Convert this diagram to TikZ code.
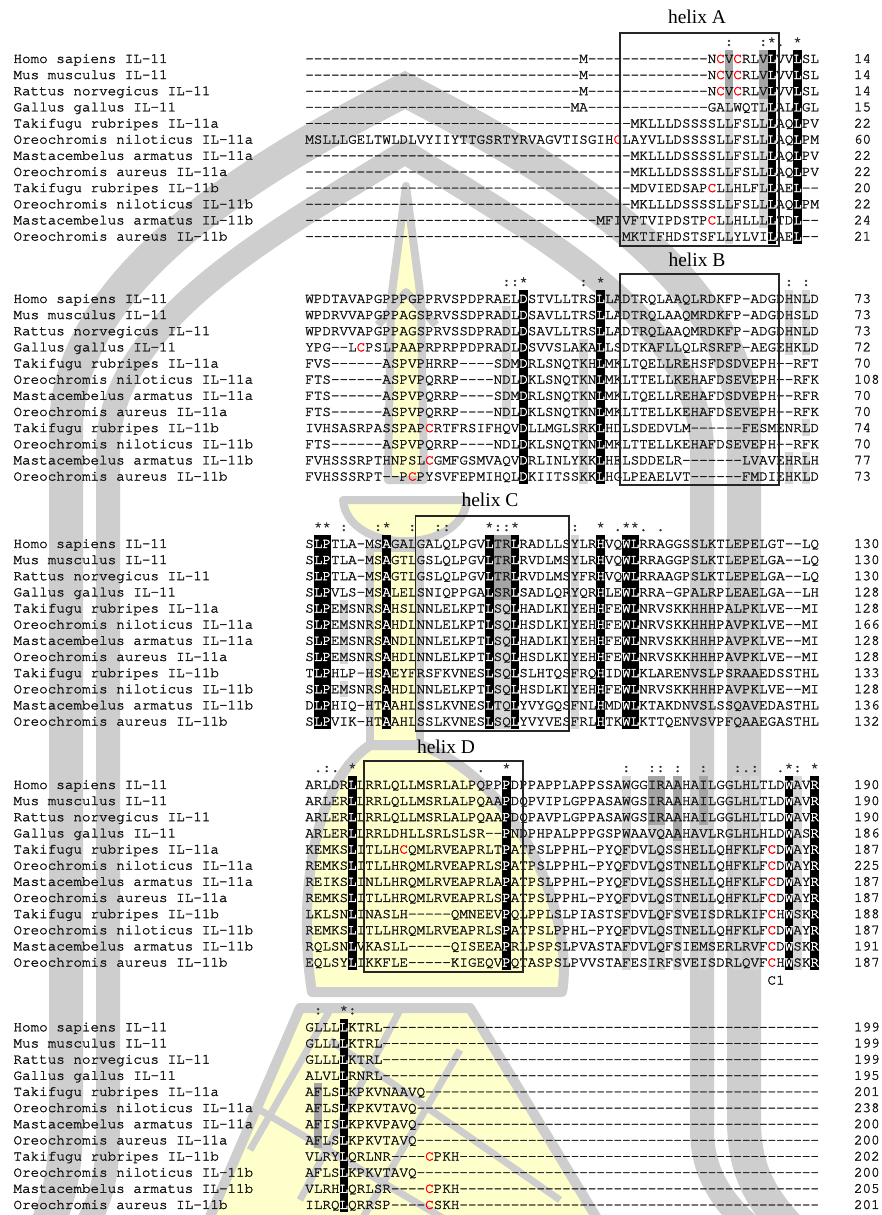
\documentclass[tikz,border=0pt]{standalone}
\usepackage{fontspec}
\setmonofont{TeX Gyre Cursor}[FakeBold=2]
\newfontfamily\helixfont{Liberation Serif}
\ExplSyntaxOn
\cs_new:Npn \dsh #1 { \prg_replicate:nn {#1} {-} }
\ExplSyntaxOff
\newcommand\rc{\textcolor{red}{C}}
\newcommand\w[1]{\textcolor{white}{#1}}
\definecolor{wmg}{RGB}{206,206,206}
\definecolor{wmy}{RGB}{255,255,204}
\definecolor{sdk}{RGB}{165,165,165}
\definecolor{slt}{RGB}{214,214,214}
\def\xo{305.3}
\def\cw{8.56}
\def\rp{16.15}
\def\yA{58.3}
\def\yB{298.3}
\def\yC{543.3}
\def\yD{784.3}
\def\yE{1026.7}
\tikzset{
  seq/.style={anchor=base west, inner sep=0pt, outer sep=0pt, font=\ttfamily\fontsize{14.27}{16}\selectfont, text=black!90},
  cons/.style={anchor=base, inner sep=0pt, outer sep=0pt, font=\ttfamily\fontsize{14.27}{16}\selectfont, text=black!80},
  helixlab/.style={inner sep=0pt, font=\helixfont\fontsize{19.5}{22}\selectfont},
  hbox/.style={draw=black!85, line width=1.3pt},
  wmline/.style={draw=wmg, line join=round},
  wmfill/.style={fill=wmy, draw=wmg, line join=round}
}
\newcommand\drawnames[2]{%
  \foreach \r/\nm in {1/Homo sapiens IL-11,2/Mus musculus IL-11,3/Rattus norvegicus IL-11,4/Gallus gallus IL-11,5/Takifugu rubripes IL-11a,6/Oreochromis niloticus IL-11a,7/Mastacembelus armatus IL-11a,8/Oreochromis aureus IL-11a,9/Takifugu rubripes IL-11b,10/Oreochromis niloticus IL-11b,11/Mastacembelus armatus IL-11b,12/Oreochromis aureus IL-11b}{%
    \node[seq] (#2n\r) at (13.5,{#1+(\r-1)*\rp+4.6}) {\nm};}}
\newcommand\blackcol[2]{%
  \fill[black] ({\xo+#2*\cw},{#1-8.1}) rectangle ({\xo+(#2+1)*\cw},{#1+11*\rp+8.1});}
\newcommand\grun[5]{%
  \fill[#5] ({\xo+#2*\cw},{#1+(#3-1)*\rp-8.08}) rectangle ({\xo+(#2+1)*\cw},{#1+(#4-1)*\rp+8.08});}
\newcommand\conss[3]{%
  \foreach \c/\s in {#2}{\node[cons] (#3c\c) at ({\xo+(\c+0.5)*\cw},{#1+4.6-17}) {\s};}}
\begin{document}
\begin{tikzpicture}[x=1pt,y=-1pt]
\useasboundingbox (0,0) rectangle (881,1215);
\fill[white] (0,0) rectangle (881,1215);
% ---------------- watermark ----------------
\begin{scope}
\clip (0,0) rectangle (881,1215);
\draw[wmline, line width=34pt, line join=miter] (40,1240) .. controls (60,1200) and (66,1170) .. (66,1120) -- (66,430) .. controls (66,280) and (250,170) .. (405,90) .. controls (560,170) and (744,280) .. (744,430) -- (744,1120) .. controls (744,1170) and (760,1200) .. (800,1240);
\draw[wmline, line width=24pt, line join=miter] (70,1250) .. controls (100,1210) and (108,1180) .. (108,1130) -- (108,450) .. controls (108,320) and (280,230) .. (405,152) .. controls (530,230) and (702,320) .. (702,450) -- (702,1130) .. controls (702,1180) and (730,1215) .. (780,1250);
\filldraw[wmfill, line width=8pt] (406,186) -- (421,300) -- (424,480) -- (388,480) -- (391,300) -- cycle;
\draw[wmline, line width=8pt] (378,325) -- (406,292) -- (436,325);
\filldraw[wmfill, line width=8pt] (343,500) .. controls (348,555) and (462,555) .. (467,500) -- cycle;
\filldraw[wmfill, line width=8pt] (370,548) rectangle (420,745);
\filldraw[wmfill, line width=10pt] (370,745) .. controls (305,790) and (300,920) .. (312,992) -- (562,992) .. controls (575,920) and (520,780) .. (420,745) -- cycle;
\filldraw[wmfill, line width=10pt] (300,1008) -- (470,1008) -- (610,1240) -- (200,1240) -- cycle;
\draw[wmline, line width=7pt] (250,1150) -- (330,1010) (300,1200) -- (400,1010) (350,1240) -- (460,1050) (330,1040) -- (560,1200) (260,1110) -- (480,1240);
\end{scope}
% ---------------- gray shading ----------------
\grun{\yA}{49}{1}{3}{sdk}\grun{\yA}{49}{4}{12}{slt}
\grun{\yA}{53}{1}{3}{sdk}\grun{\yA}{53}{4}{11}{slt}
\grun{\yB}{23}{2}{8}{slt}\grun{\yB}{32}{4}{12}{slt}
\grun{\yB}{56}{1}{4}{slt}\grun{\yB}{56}{11}{12}{slt}
\grun{\yB}{58}{1}{4}{slt}\grun{\yB}{58}{9}{9}{slt}\grun{\yB}{58}{11}{12}{slt}
\grun{\yC}{4}{5}{8}{slt}\grun{\yC}{4}{10}{10}{slt}
\grun{\yC}{22}{1}{4}{sdk}\grun{\yC}{23}{1}{4}{sdk}
\grun{\yC}{22}{5}{12}{slt}\grun{\yC}{23}{5}{12}{slt}
\grun{\yC}{31}{1}{12}{slt}
\grun{\yD}{37}{1}{12}{slt}
\grun{\yD}{40}{1}{3}{sdk}\grun{\yD}{41}{1}{3}{sdk}
\grun{\yD}{40}{4}{12}{slt}\grun{\yD}{41}{4}{12}{slt}
\grun{\yD}{43}{1}{4}{sdk}\grun{\yD}{43}{5}{12}{slt}
\grun{\yD}{46}{1}{3}{sdk}\grun{\yD}{46}{4}{12}{slt}
\grun{\yD}{50}{1}{12}{slt}\grun{\yD}{52}{1}{12}{slt}\grun{\yD}{57}{1}{12}{slt}
\grun{\yE}{1}{5}{8}{sdk}
% ---------------- black columns ----------------
\blackcol{\yA}{54}\blackcol{\yA}{57}
\blackcol{\yB}{25}\blackcol{\yB}{34}
\blackcol{\yC}{1}\blackcol{\yC}{2}\blackcol{\yC}{9}\blackcol{\yC}{21}\blackcol{\yC}{24}\blackcol{\yC}{34}\blackcol{\yC}{37}\blackcol{\yC}{38}
\blackcol{\yD}{5}\blackcol{\yD}{23}\blackcol{\yD}{56}\blackcol{\yD}{59}
\blackcol{\yE}{4}
% ---------------- names ----------------
\drawnames{\yA}{b1}\drawnames{\yB}{b2}\drawnames{\yC}{b3}\drawnames{\yD}{b4}\drawnames{\yE}{b5}
% ---------------- block 1 ----------------
\foreach \r/\s/\n in {
 1/{\dsh{32}M\dsh{14}N\rc{}V\rc{}RLV\w{L}VV\w{L}SL}/14,
 2/{\dsh{32}M\dsh{14}N\rc{}V\rc{}RLV\w{L}VV\w{L}SL}/14,
 3/{\dsh{32}M\dsh{14}N\rc{}V\rc{}RLV\w{L}VV\w{L}SL}/14,
 4/{\dsh{31}MA\dsh{14}GALWQTL\w{L}AL\w{L}GL}/15,
 5/{\dsh{38}MKLLLDSSSSLLFSLL\w{L}AQ\w{L}PV}/22,
 6/{MSLLLGELTWLDLVYIIYTTGSRTYRVAGVTISGIH\rc{}LAYVLLDSSSSLLFSLL\w{L}AQ\w{L}PM}/60,
 7/{\dsh{38}MKLLLDSSSSLLFSLL\w{L}AQ\w{L}PV}/22,
 8/{\dsh{38}MKLLLDSSSSLLFSLL\w{L}AQ\w{L}PV}/22,
 9/{\dsh{38}MDVIEDSAP\rc{}LLHLFL\w{L}AE\w{L}--}/20,
 10/{\dsh{38}MKLLLDSSSSLLFSLL\w{L}AQ\w{L}PM}/22,
 11/{\dsh{34}MFIVFTVIPDSTP\rc{}LLHLLL\w{L}TD\w{L}--}/24,
 12/{\dsh{37}MKTIFHDSTSFLLYLVI\w{L}AE\w{L}--}/21}{
 \node[seq] (b1s\r) at (\xo,{\yA+(\r-1)*\rp+4.6}) {\s};
 \node[seq] (b1m\r) at (854,{\yA+(\r-1)*\rp+4.6}) {\n};}
% ---------------- block 2 ----------------
\foreach \r/\s/\n in {
 1/{WPDTAVAPGPPPGPPRVSPDPRAEL\w{D}STVLLTRS\w{L}LADTRQLAAQLRDKFP-ADGDHNLD}/73,
 2/{WPDRVVAPGPPAGSPRVSSDPRADL\w{D}SAVLLTRS\w{L}LADTRQLAAQMRDKFP-ADGDHSLD}/73,
 3/{WPDRVVAPGPPAGSPRVSSDPRADL\w{D}SAVLLTRS\w{L}LADTRQLAAQMRDKFP-ADGDHNLD}/73,
 4/{YPG--L\rc{}PSLPAAPRPRPPDPRADL\w{D}SVVSLAKA\w{L}LSDTKAFLLQLRSRFP-AEGEHKLD}/72,
 5/{FVS------ASPVPHRRP----SDM\w{D}RLSNQTKH\w{L}MKLTQELLREHSFDSDVEPH--RFT}/70,
 6/{FTS------ASPVPQRRP----NDL\w{D}KLSNQTKN\w{L}MKLTTELLKEHAFDSEVEPH--RFK}/108,
 7/{FTS------ASPVPQRRP----SDM\w{D}RLSNQTKN\w{L}MKLTQELLREHAFDSDVEPH--RFR}/70,
 8/{FTS------ASPVPQRRP----NDL\w{D}KLSNQTKN\w{L}MKLTTELLKEHAFDSEVEPH--RFK}/70,
 9/{IVHSASRPASSPAP\rc{}RTFRSIFHQV\w{D}LLMGLSRK\w{L}HDLSDEDVLM------FESMENRLD}/74,
 10/{FTS------ASPVPQRRP----NDL\w{D}KLSNQTKN\w{L}MKLTTELLKEHAFDSEVEPH--RFK}/70,
 11/{FVHSSSRPTHNPSL\rc{}GMFGSMVAQV\w{D}RLINLYKK\w{L}HELSDDELR-------LVAVEHRLH}/77,
 12/{FVHSSSRPT--P\rc{}PYSVFEPMIHQL\w{D}KIITSSKK\w{L}HGLPEAELVT------FMDIEHKLD}/73}{
 \node[seq] (b2s\r) at (\xo,{\yB+(\r-1)*\rp+4.6}) {\s};
 \node[seq] (b2m\r) at (854,{\yB+(\r-1)*\rp+4.6}) {\n};}
% ---------------- block 3 ----------------
\foreach \r/\s/\n in {
 1/{S\w{L}\w{P}TLA-MS\w{A}GALGALQLPGV\w{L}TR\w{L}RADLLSYLR\w{H}VQ\w{W}\w{L}RRAGGSSLKTLEPELGT--LQ}/130,
 2/{S\w{L}\w{P}TLA-MS\w{A}GTLGSLQLPGV\w{L}TR\w{L}RVDLMSYLR\w{H}VQ\w{W}\w{L}RRAGGPSLKTLEPELGA--LQ}/130,
 3/{S\w{L}\w{P}TLA-MS\w{A}GTLGSLQLPGV\w{L}TR\w{L}RVDLMSYFR\w{H}VQ\w{W}\w{L}RRAAGPSLKTLEPELGA--LQ}/130,
 4/{S\w{L}\w{P}VLS-MS\w{A}LELSNIQPPGA\w{L}SR\w{L}SADLQRYQR\w{H}LE\w{W}\w{L}RRA-GPALRPLEAELGA--LH}/128,
 5/{S\w{L}\w{P}EMSNRS\w{A}HSLNNLELKPT\w{L}SQ\w{L}HADLKLYEH\w{H}FE\w{W}\w{L}NRVSKKHHHPALPKLVE--MI}/128,
 6/{S\w{L}\w{P}EMSNRS\w{A}HDLNNLELKPT\w{L}SQ\w{L}HSDLKLYEH\w{H}FE\w{W}\w{L}NRVSKKHHHPAVPKLVE--MI}/166,
 7/{S\w{L}\w{P}EMSNRS\w{A}NDLNNLELKPT\w{L}SQ\w{L}HADLKLYEH\w{H}FE\w{W}\w{L}NRVSKKHHHPAVPKLVE--MI}/128,
 8/{S\w{L}\w{P}EMSNRS\w{A}HDLNNLELKPT\w{L}SQ\w{L}HSDLKLYEH\w{H}FE\w{W}\w{L}NRVSKKHHHPAVPKLVE--MI}/128,
 9/{T\w{L}\w{P}HLP-HS\w{A}EYFRSFKVNES\w{L}SQ\w{L}SLHTQSFRQ\w{H}ID\w{W}\w{L}KLARENVSLPSRAAEDSSTHL}/133,
 10/{S\w{L}\w{P}EMSNRS\w{A}HDLNNLELKPT\w{L}SQ\w{L}HSDLKLYEH\w{H}FE\w{W}\w{L}NRVSKKHHHPAVPKLVE--MI}/128,
 11/{D\w{L}\w{P}HIQ-HT\w{A}AHLSSLKVNES\w{L}TQ\w{L}YVYGQSFNL\w{H}MD\w{W}\w{L}KTAKDNVSLSSQAVEDASTHL}/136,
 12/{S\w{L}\w{P}VIK-HT\w{A}AHLSSLKVNES\w{L}SQ\w{L}YVYVESFRL\w{H}TK\w{W}\w{L}KTTQENVSVPFQAAEGASTHL}/132}{
 \node[seq] (b3s\r) at (\xo,{\yC+(\r-1)*\rp+4.6}) {\s};
 \node[seq] (b3m\r) at (854,{\yC+(\r-1)*\rp+4.6}) {\n};}
% ---------------- block 4 ----------------
\foreach \r/\s/\n in {
 1/{ARLDR\w{L}LRRLQLLMSRLALPQPP\w{P}DPPAPPLAPPSSAWGGIRAAHAILGGLHLTLD\w{W}AV\w{R}}/190,
 2/{ARLER\w{L}LRRLQLLMSRLALPQAA\w{P}DQPVIPLGPPASAWGSIRAAHAILGGLHLTLD\w{W}AV\w{R}}/190,
 3/{ARLER\w{L}LRRLQLLMSRLALPQAA\w{P}DQPAVPLGPPASAWGSIRAAHAILGGLHLTLD\w{W}AV\w{R}}/190,
 4/{ARLER\w{L}LRRLDHLLSRLSLSR--\w{P}NDPHPALPPPGSPWAAVQAAHAVLRGLHLHLD\w{W}AS\w{R}}/186,
 5/{KEMKS\w{L}ITLLH\rc{}QMLRVEAPRLT\w{P}ATPSLPPHL-PYQFDVLQSSHELLQHFKLF\rc{}D\w{W}AY\w{R}}/187,
 6/{REMKS\w{L}ITLLHRQMLRVEAPRLS\w{P}ATPSLPPHL-PYQFDVLQSTNELLQHFKLF\rc{}D\w{W}AY\w{R}}/225,
 7/{REIKS\w{L}INLLHRQMLRVEAPRLA\w{P}ATPSLPPHL-PYQFDVLQSSHELLQHFKLF\rc{}D\w{W}AY\w{R}}/187,
 8/{REMKS\w{L}ITLLHRQMLRVEAPRLS\w{P}ATPSLPPHL-PYQFDVLQSTNELLQHFKLF\rc{}D\w{W}AY\w{R}}/187,
 9/{LKLSN\w{L}INASLH-----QMNEEV\w{P}QLPPLSLPIASTSFDVLQFSVEISDRLKIF\rc{}H\w{W}SK\w{R}}/188,
 10/{REMKS\w{L}ITLLHRQMLRVEAPRLS\w{P}ATPSLPPHL-PYQFDVLQSTNELLQHFKLF\rc{}D\w{W}AY\w{R}}/187,
 11/{RQLSN\w{L}VKASLL-----QISEEA\w{P}RLPSPSLPVASTAFDVLQFSIEMSERLRVF\rc{}D\w{W}SK\w{R}}/191,
 12/{EQLSY\w{L}IKKFLE-----KIGEQV\w{P}QTASPSLPVVSTAFESIRFSVEISDRLQVF\rc{}H\w{W}SK\w{R}}/187}{
 \node[seq] (b4s\r) at (\xo,{\yD+(\r-1)*\rp+4.6}) {\s};
 \node[seq] (b4m\r) at (854,{\yD+(\r-1)*\rp+4.6}) {\n};}
% ---------------- block 5 ----------------
\foreach \r/\s/\n in {
 1/{GLLL\w{L}KTRL\dsh{51}}/199,
 2/{GLLL\w{L}KTRL\dsh{51}}/199,
 3/{GLLL\w{L}KTRL\dsh{51}}/199,
 4/{ALVL\w{L}RNRL\dsh{51}}/195,
 5/{AFLS\w{L}KPKVNAAVQ\dsh{46}}/201,
 6/{AFLS\w{L}KPKVTAVQ\dsh{47}}/238,
 7/{AFIS\w{L}KPKVPAVQ\dsh{47}}/200,
 8/{AFLS\w{L}KPKVTAVQ\dsh{47}}/200,
 9/{VLRY\w{L}QRLNR----\rc{}PKH\dsh{42}}/202,
 10/{AFLS\w{L}KPKVTAVQ\dsh{47}}/200,
 11/{VLRH\w{L}QRLSR----\rc{}PKH\dsh{42}}/205,
 12/{ILRQ\w{L}QRRSP----\rc{}SKH\dsh{42}}/201}{
 \node[seq] (b5s\r) at (\xo,{\yE+(\r-1)*\rp+4.6}) {\s};
 \node[seq] (b5m\r) at (854,{\yE+(\r-1)*\rp+4.6}) {\n};}
% ---------------- conservation lines ----------------
\conss{\yA}{49/:,53/:,54/*,55/.,57/*}{b1}
\conss{\yB}{23/:,24/:,25/*,32/:,34/*,56/:,58/:}{b2}
\conss{\yC}{1/*,2/*,4/:,8/:,9/*,12/:,15/:,16/:,21/*,22/:,23/:,24/*,31/:,34/*,36/.,37/*,38/*,39/.,41/.}{b3}
\conss{\yD}{1/.,2/:,3/.,5/*,20/.,23/*,37/:,40/:,41/:,43/:,46/:,50/:,51/.,52/:,55/.,56/*,57/:,59/*}{b4}
\conss{\yE}{1/:,4/*,5/:}{b5}
% ---------------- helix boxes ----------------
\draw[hbox] (620,33) rectangle (779,246);
\draw[hbox] (620,274) rectangle (779,485);
\draw[hbox] (415.5,516) rectangle (569,731);
\draw[hbox] (364,761) rectangle (523,972);
\node[helixlab] (hA) at (697,17) {helix A};
\node[helixlab] (hB) at (697,260) {helix B};
\node[helixlab] (hC) at (490,500) {helix C};
\node[helixlab] (hD) at (446,747) {helix D};
\node[seq] (c1) at ({\xo+54*\cw},984.5) {C1};
\end{tikzpicture}
\end{document}
